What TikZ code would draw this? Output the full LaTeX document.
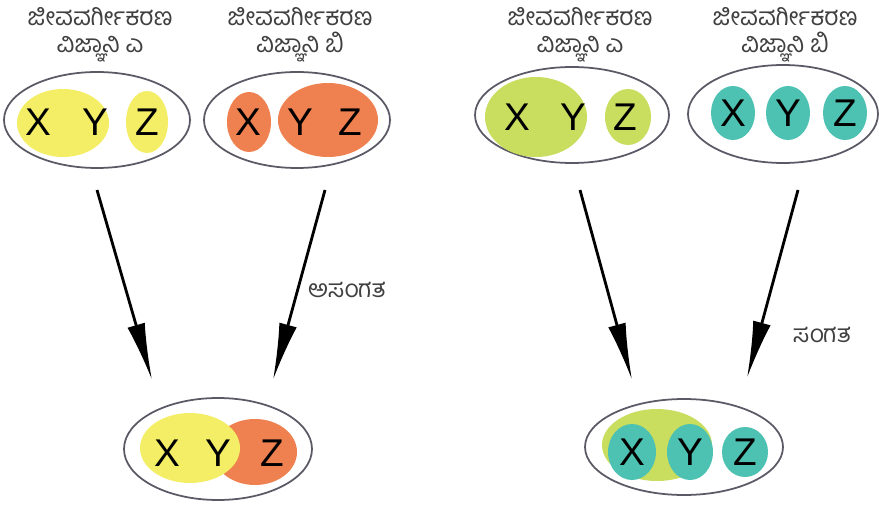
\documentclass[tikz,border=0pt]{standalone}
\usepackage{fontspec}
\usepackage{tikz}
\usepackage{xcolor}
\usetikzlibrary{arrows.meta, positioning}
\newfontfamily\knfont[Script=Kannada]{Hind Mysuru}
\newfontfamily\latinfont{Liberation Sans}
\definecolor{pyellow}{HTML}{F4EE66}
\definecolor{porange}{HTML}{EF8050}
\definecolor{pgreen}{HTML}{C9DD5E}
\definecolor{pteal}{HTML}{4EC2B2}
\definecolor{rim}{HTML}{5A5A66}

\tikzset{
  rimline/.style={draw=rim, line width=1pt},
  letter/.style={font=\latinfont\fontsize{22}{22}\selectfont, inner sep=0pt},
  heading/.style={font=\knfont\fontsize{14}{15.5}\selectfont, align=center, text=black!75},
  tag/.style={font=\knfont\fontsize{14}{14}\selectfont, text=black!75},
  arr/.style={-{Latex[length=1.14cm, width=0.36cm]}, line width=1.6pt}
}

\begin{document}
\begin{tikzpicture}[x=0.02cm, y=-0.02cm]
  \useasboundingbox (0,0) rectangle (879,510);

  % Scientist A, left side
  \node[heading] (headA) at (100,35) {ಜೀವವರ್ಗೀಕರಣ\\ವಿಜ್ಞಾನಿ ಎ};
  \draw[rimline] (97,120) ellipse (93 and 48);
  \fill[pyellow] (63,123) ellipse (46 and 34);
  \fill[pyellow] (147,122) ellipse (21 and 31);
  \node[letter] (xa) at (38,122) {X};
  \node[letter] (ya) at (95,122) {Y};
  \node[letter] (za) at (147,122) {Z};

  % Scientist B, left side
  \node[heading] (headB) at (300,35) {ಜೀವವರ್ಗೀಕರಣ\\ವಿಜ್ಞಾನಿ ಬಿ};
  \draw[rimline] (297,120) ellipse (93 and 48);
  \fill[porange] (249,122) ellipse (22 and 30);
  \fill[porange] (328,120) ellipse (50 and 37);
  \node[letter] (xb) at (248,122) {X};
  \node[letter] (yb) at (300,122) {Y};
  \node[letter] (zb) at (350,122) {Z};

  % Result, left side
  \draw[rimline] (218,449) ellipse (94 and 51);
  \fill[porange] (255,452) ellipse (42 and 33);
  \fill[pyellow] (190,448) ellipse (50 and 35);
  \node[letter] (xc) at (167,453) {X};
  \node[letter] (yc) at (218,453) {Y};
  \node[letter] (zc) at (272,453) {Z};

  % Arrows, left side
  \coordinate (la1) at (97,190);
  \coordinate (la2) at (152,380);
  \coordinate (lb1) at (325,190);
  \coordinate (lb2) at (273,380);
  \draw[arr] (la1) -- (la2);
  \draw[arr] (lb1) -- (lb2);
  \node[tag] (incong) at (347,290) {ಅಸಂಗತ};

  % Scientist A, right side
  \node[heading] (headC) at (580,35) {ಜೀವವರ್ಗೀಕರಣ\\ವಿಜ್ಞಾನಿ ಎ};
  \draw[rimline] (572,115) ellipse (97 and 48);
  \fill[pgreen] (536,117) ellipse (51 and 40);
  \fill[pgreen] (628,117) ellipse (23 and 28);
  \node[letter] (xd) at (517,117) {X};
  \node[letter] (yd) at (573,117) {Y};
  \node[letter] (zd) at (625,117) {Z};

  % Scientist B, right side
  \node[heading] (headD) at (785,35) {ಜೀವವರ್ಗೀಕರಣ\\ವಿಜ್ಞಾನಿ ಬಿ};
  \draw[rimline] (783,114) ellipse (95 and 49);
  \fill[pteal] (733,113) ellipse (22 and 27);
  \fill[pteal] (788,113) ellipse (22 and 27);
  \fill[pteal] (845,113) ellipse (22 and 27);
  \node[letter] (xe) at (733,113) {X};
  \node[letter] (ye) at (788,113) {Y};
  \node[letter] (ze) at (845,113) {Z};

  % Result, right side
  \draw[rimline] (684,447) ellipse (99 and 48);
  \fill[pgreen] (657,445) ellipse (55 and 36);
  \fill[pteal] (632,452) ellipse (24 and 28);
  \fill[pteal] (690,452) ellipse (23 and 28);
  \fill[pteal] (745,452) ellipse (23 and 25);
  \node[letter] (xf) at (632,452) {X};
  \node[letter] (yf) at (690,452) {Y};
  \node[letter] (zf) at (745,452) {Z};

  % Arrows, right side
  \coordinate (ra1) at (580,190);
  \coordinate (ra2) at (632,380);
  \coordinate (rb1) at (798,190);
  \coordinate (rb2) at (747,378);
  \draw[arr] (ra1) -- (ra2);
  \draw[arr] (rb1) -- (rb2);
  \node[tag] (cong) at (822,335) {ಸಂಗತ};
\end{tikzpicture}
\end{document}
